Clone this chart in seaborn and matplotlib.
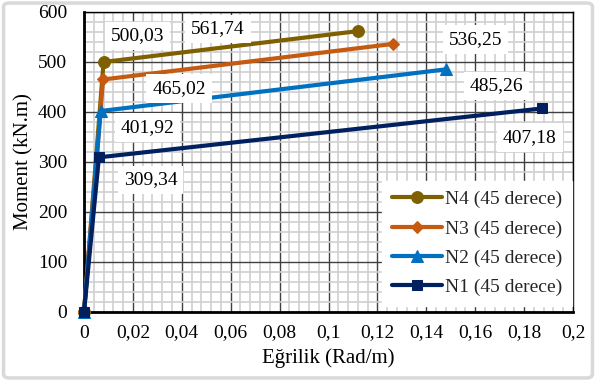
import matplotlib
matplotlib.use("Agg")
import matplotlib.pyplot as plt
import seaborn as sns
import pandas as pd
import numpy as np
from matplotlib.ticker import MultipleLocator, FuncFormatter
from matplotlib.patches import FancyBboxPatch

series = ["N4 (45 derece)", "N3 (45 derece)", "N2 (45 derece)", "N1 (45 derece)"]
curv_N4 = [0.0, 0.0080, 0.1120]
mom_N4 = [0.0, 500.03, 561.74]
curv_N3 = [0.0, 0.0078, 0.1265]
mom_N3 = [0.0, 465.02, 536.25]
curv_N2 = [0.0, 0.0068, 0.1480]
mom_N2 = [0.0, 401.92, 485.26]
curv_N1 = [0.0, 0.0061, 0.1875]
mom_N1 = [0.0, 309.34, 407.18]
colors = ["#7F6000", "#C55A11", "#0070C0", "#002060"]
markers = ["o", "D", "^", "s"]
msizes = [8.5, 6.5, 8.5, 7]

labels_text = ["500,03", "561,74", "465,02", "401,92", "309,34", "536,25", "485,26", "407,18"]
labels_pos = [(0.0218, 552), (0.0548, 566), (0.0389, 447), (0.0259, 369),
              (0.0273, 264), (0.1602, 545), (0.1688, 452), (0.1824, 349)]

curvs = [curv_N4, curv_N3, curv_N2, curv_N1]
moms = [mom_N4, mom_N3, mom_N2, mom_N1]
df = pd.concat([pd.DataFrame({"x": c, "y": m, "s": s}) for c, m, s in zip(curvs, moms, series)],
               ignore_index=True)

sns.set_theme(style="white")
plt.rcParams["font.family"] = ["Liberation Serif", "DejaVu Serif"]

fig = plt.figure(figsize=(5.96, 3.81), dpi=100)
ax = fig.add_axes([84 / 596, 1 - 312 / 381, (573 - 84) / 596, (312 - 12) / 381])

# figure frame
fig.patches.append(FancyBboxPatch((0.006, 0.008), 0.988, 0.984, boxstyle="round,pad=0,rounding_size=0.01",
                                  transform=fig.transFigure, facecolor="none",
                                  edgecolor="#D9D9D9", linewidth=2.5, zorder=0))

for s, col, mk, ms in zip(series, colors, markers, msizes):
    sub = df[df["s"] == s]
    sns.lineplot(data=sub, x="x", y="y", ax=ax, color=col, marker=mk, sort=False,
                 linewidth=3.0, markersize=ms, markeredgecolor=col,
                 label=s, zorder=3, clip_on=False)

ax.set_xlim(0, 0.2)
ax.set_ylim(0, 600)
ax.xaxis.set_major_locator(MultipleLocator(0.02))
ax.xaxis.set_minor_locator(MultipleLocator(0.004))
ax.yaxis.set_major_locator(MultipleLocator(100))
ax.yaxis.set_minor_locator(MultipleLocator(20))
ax.grid(which="minor", color="#D0D0D0", linewidth=1.2, zorder=0)
ax.grid(which="major", color="#404040", linewidth=1.0, zorder=0)
ax.set_axisbelow(True)

def fmt(v, pos):
    t = ("%.2f" % v).rstrip("0").rstrip(".")
    return t.replace(".", ",")
ax.xaxis.set_major_formatter(FuncFormatter(fmt))
ax.tick_params(axis="both", which="both", length=0, labelsize=14, colors="black")
ax.tick_params(axis="y", pad=12)
ax.tick_params(axis="x", pad=9)

for sp in ["top", "right"]:
    ax.spines[sp].set_color("black")
    ax.spines[sp].set_linewidth(1.0)
for sp in ["left", "bottom"]:
    ax.spines[sp].set_color("black")
    ax.spines[sp].set_linewidth(2.0)

for t, (x, y) in zip(labels_text, labels_pos):
    ax.text(x, y, t, ha="center", va="center", fontsize=14, color="black", zorder=5,
            bbox=dict(facecolor="white", edgecolor="none", boxstyle="square,pad=0.3"))

ax.set_xlabel("Eğrilik (Rad/m)", fontsize=15, color="black", labelpad=5)
ax.set_ylabel("Moment (kN.m)", fontsize=15, color="black", labelpad=3)

leg = ax.legend(loc="lower right", bbox_to_anchor=(0.998, 0.02), frameon=True, fontsize=14,
                handlelength=2.6, labelspacing=0.6, borderpad=0.5, handletextpad=0.15,
                fancybox=False, borderaxespad=0)
leg.get_frame().set_facecolor("white")
leg.get_frame().set_edgecolor("white")
leg.get_frame().set_alpha(1)

fig.savefig("out.png", dpi=100)
